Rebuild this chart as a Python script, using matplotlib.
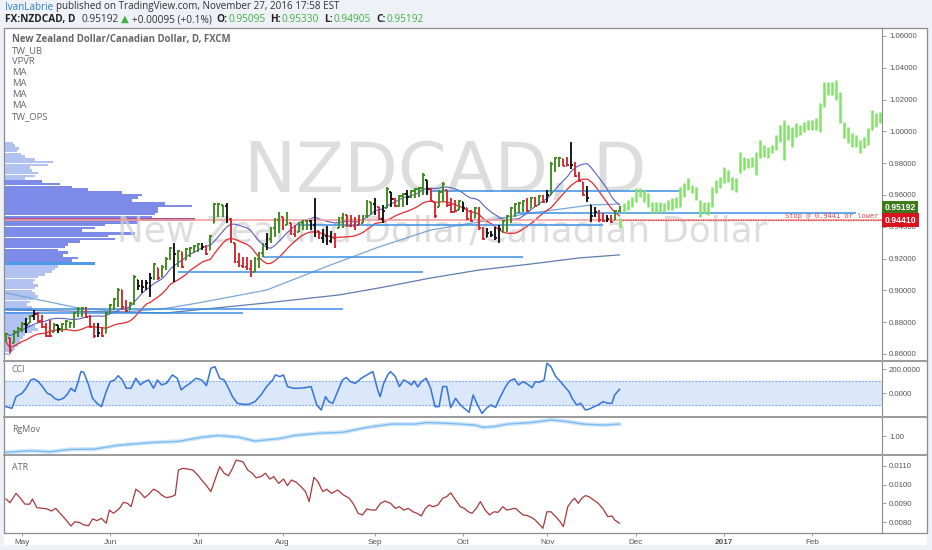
import numpy as np
import pandas as pd
import matplotlib
matplotlib.use("Agg")
import matplotlib.pyplot as plt
from matplotlib.collections import LineCollection, PatchCollection
from matplotlib.patches import Rectangle
import matplotlib.transforms as mtransforms
from matplotlib.ticker import FormatStrFormatter, FixedLocator
from matplotlib.lines import Line2D

plt.rcParams['font.family'] = ['Liberation Sans', 'DejaVu Sans']

# ---------------------------------------------------------------- data
month_labels = ['May', 'Jun', 'Jul', 'Aug', 'Sep', 'Oct', 'Nov', 'Dec', '2017', 'Feb']
month_bar = [0, 22, 44, 65, 88, 110, 131, 153, 175, 197]   # bar index of 1st trading day
first_bar = -4                                              # 26 Apr 2016

bar_high = [
    0.8731, 0.8700, 0.8750, 0.8769, 0.8801, 0.8826, 0.8845, 0.8876, 0.8864, 0.8845,
    0.8794, 0.8813, 0.8794, 0.8782, 0.8794, 0.8813, 0.8801, 0.8864, 0.8895, 0.8895,
    0.8895, 0.8845, 0.8794, 0.8794, 0.8769, 0.8864, 0.8914, 0.8952, 0.9015, 0.9002,
    0.8939, 0.8927, 0.9097, 0.9065, 0.9065, 0.9065, 0.9109, 0.9172, 0.9140, 0.9159,
    0.9209, 0.9273, 0.9298, 0.9254, 0.9241, 0.9266, 0.9273, 0.9285, 0.9298, 0.9298,
    0.9285, 0.9348, 0.9549, 0.9549, 0.9537, 0.9549, 0.9455, 0.9298, 0.9235, 0.9209,
    0.9209, 0.9191, 0.9209, 0.9241, 0.9298, 0.9360, 0.9398, 0.9455, 0.9493, 0.9461,
    0.9493, 0.9424, 0.9411, 0.9430, 0.9443, 0.9443, 0.9443, 0.9581, 0.9373, 0.9386,
    0.9405, 0.9373, 0.9361, 0.9461, 0.9486, 0.9474, 0.9474, 0.9461, 0.9474, 0.9474,
    0.9568, 0.9555, 0.9581, 0.9524, 0.9537, 0.9650, 0.9618, 0.9581, 0.9600, 0.9612,
    0.9631, 0.9631, 0.9644, 0.9650, 0.9738, 0.9694, 0.9644, 0.9555, 0.9631, 0.9681,
    0.9631, 0.9581, 0.9568, 0.9568, 0.9555, 0.9518, 0.9505, 0.9524, 0.9524, 0.9398,
    0.9392, 0.9373, 0.9398, 0.9411, 0.9443, 0.9474, 0.9524, 0.9549, 0.9555, 0.9568,
    0.9581, 0.9587, 0.9587, 0.9600, 0.9600, 0.9631, 0.9807, 0.9838, 0.9838, 0.9826,
    0.9838, 0.9933, 0.9807, 0.9744, 0.9681, 0.9656, 0.9537, 0.9524, 0.9505, 0.9486,
    0.9474, 0.9474, 0.9505, 0.9533]
bar_low = [
    0.8675, 0.8606, 0.8669, 0.8706, 0.8738, 0.8731, 0.8794, 0.8813, 0.8794, 0.8763,
    0.8706, 0.8706, 0.8738, 0.8731, 0.8738, 0.8750, 0.8763, 0.8763, 0.8832, 0.8832,
    0.8826, 0.8763, 0.8700, 0.8706, 0.8706, 0.8731, 0.8857, 0.8876, 0.8895, 0.8876,
    0.8864, 0.8876, 0.8908, 0.9002, 0.8983, 0.9002, 0.8958, 0.9065, 0.9065, 0.9084,
    0.9128, 0.9191, 0.9052, 0.9147, 0.9140, 0.9191, 0.9210, 0.9235, 0.9241, 0.9254,
    0.9222, 0.9254, 0.9424, 0.9461, 0.9461, 0.9424, 0.9298, 0.9172, 0.9147, 0.9140,
    0.9128, 0.9084, 0.9115, 0.9140, 0.9210, 0.9254, 0.9298, 0.9335, 0.9360, 0.9380,
    0.9411, 0.9348, 0.9335, 0.9367, 0.9380, 0.9380, 0.9380, 0.9335, 0.9323, 0.9298,
    0.9285, 0.9298, 0.9266, 0.9392, 0.9392, 0.9398, 0.9398, 0.9380, 0.9411, 0.9424,
    0.9455, 0.9474, 0.9474, 0.9443, 0.9424, 0.9518, 0.9524, 0.9524, 0.9524, 0.9524,
    0.9537, 0.9581, 0.9581, 0.9587, 0.9600, 0.9600, 0.9555, 0.9455, 0.9524, 0.9555,
    0.9524, 0.9486, 0.9493, 0.9505, 0.9493, 0.9443, 0.9430, 0.9455, 0.9380, 0.9317,
    0.9335, 0.9335, 0.9317, 0.9298, 0.9360, 0.9367, 0.9424, 0.9461, 0.9486, 0.9493,
    0.9493, 0.9518, 0.9524, 0.9537, 0.9549, 0.9555, 0.9600, 0.9744, 0.9776, 0.9782,
    0.9782, 0.9763, 0.9713, 0.9681, 0.9593, 0.9555, 0.9430, 0.9461, 0.9430, 0.9430,
    0.9430, 0.9424, 0.9440, 0.94905]
bar_close = [
    0.8725, 0.8625, 0.8740, 0.8760, 0.8790, 0.8780, 0.8840, 0.8850, 0.8805, 0.8770,
    0.8715, 0.8710, 0.8785, 0.8755, 0.8788, 0.8805, 0.8795, 0.8855, 0.8885, 0.8890,
    0.8835, 0.8770, 0.8710, 0.8730, 0.8712, 0.8855, 0.8905, 0.8945, 0.9005, 0.8895,
    0.8870, 0.8920, 0.9085, 0.9030, 0.9020, 0.9045, 0.9080, 0.9165, 0.9075, 0.9150,
    0.9200, 0.9265, 0.9230, 0.9245, 0.9150, 0.9260, 0.9268, 0.9280, 0.9290, 0.9275,
    0.9230, 0.9340, 0.9540, 0.9540, 0.9530, 0.9450, 0.9310, 0.9180, 0.9155, 0.9150,
    0.9135, 0.9090, 0.9200, 0.9235, 0.9290, 0.9320, 0.9390, 0.9445, 0.9480, 0.9390,
    0.9485, 0.9355, 0.9342, 0.9425, 0.9435, 0.9438, 0.9410, 0.9420, 0.9330, 0.9340,
    0.9310, 0.9330, 0.9275, 0.9455, 0.9475, 0.9405, 0.9402, 0.9388, 0.9415, 0.9470,
    0.9560, 0.9545, 0.9530, 0.9450, 0.9500, 0.9640, 0.9575, 0.9530, 0.9595, 0.9605,
    0.9590, 0.9625, 0.9638, 0.9645, 0.9725, 0.9640, 0.9560, 0.9465, 0.9620, 0.9670,
    0.9535, 0.9495, 0.9500, 0.9560, 0.9520, 0.9450, 0.9435, 0.9515, 0.9390, 0.9325,
    0.9360, 0.9350, 0.9330, 0.9385, 0.9435, 0.9465, 0.9515, 0.9540, 0.9548, 0.9560,
    0.9500, 0.9580, 0.9530, 0.9595, 0.9555, 0.9600, 0.9795, 0.9830, 0.9832, 0.9785,
    0.9790, 0.9790, 0.9720, 0.9688, 0.9600, 0.9580, 0.9470, 0.9490, 0.9440, 0.9438,
    0.9450, 0.9430, 0.9500, 0.95192]
# g = up bar, r = down bar, k = neutral bar (indicator colouring)
bar_state = ("grgggkgkrr" "rrgkgggggg" "rrrkrggggr" "rggkkkkgrg" "ggkgrggggk"
             "rggggkrrrr" "rrgggkgggr" "grrgggkkrk" "kkrggrrrrg" "ggkrkgkrgg"
             "kggggkrrgg" "rrrgkrrgrr" "kkkkgggggg" "rgrgrkgggr" "rkrrrkkkrr" "krgg")

# projected path (TW_OPS) - bar ranges
proj_first_bar = 149
proj_high = [
    0.9455, 0.9549, 0.9568, 0.9587, 0.9644, 0.9644, 0.9631, 0.9612, 0.9555, 0.9555,
    0.9555, 0.9549, 0.9568, 0.9581, 0.9587, 0.9650, 0.9675, 0.9707, 0.9663, 0.9650,
    0.9568, 0.9555, 0.9555, 0.9650, 0.9694, 0.9713, 0.9776, 0.9757, 0.9713, 0.9707,
    0.9870, 0.9839, 0.9833, 0.9839, 0.9870, 0.9946, 0.9914, 0.9902, 0.9914, 0.9977,
    1.0040, 1.0072, 1.0040, 1.0028, 1.0053, 1.0040, 1.0059, 1.0072, 1.0072, 1.0084,
    1.0179, 1.0311, 1.0311, 1.0311, 1.0323, 1.0248, 1.0059, 1.0028, 0.9990, 0.9977,
    0.9946, 0.9965, 1.0021, 1.0135, 1.0116, 1.0122]
proj_low = [
    0.9392, 0.9486, 0.9505, 0.9524, 0.9555, 0.9587, 0.9555, 0.9524, 0.9486, 0.9486,
    0.9493, 0.9493, 0.9505, 0.9505, 0.9518, 0.9524, 0.9587, 0.9631, 0.9612, 0.9568,
    0.9461, 0.9486, 0.9474, 0.9524, 0.9612, 0.9644, 0.9675, 0.9682, 0.9631, 0.9619,
    0.9738, 0.9757, 0.9770, 0.9776, 0.9726, 0.9833, 0.9839, 0.9833, 0.9864, 0.9883,
    0.9933, 0.9820, 0.9946, 0.9902, 0.9965, 0.9977, 0.9996, 1.0009, 1.0009, 1.0009,
    0.9996, 1.0153, 1.0229, 1.0229, 1.0197, 1.0053, 0.9958, 0.9927, 0.9902, 0.9902,
    0.9864, 0.9895, 0.9915, 1.0009, 1.0028, 1.0053]

# long moving averages
ma_slow_a_bar = [-4, 14, 25, 35, 44, 61, 77, 89, 102, 114, 127, 142, 149]
ma_slow_a = [0.8984, 0.8889, 0.8864, 0.8883, 0.8921, 0.9002, 0.9160, 0.9273,
             0.9380, 0.9430, 0.9487, 0.9537, 0.9543]
ma_slow_b_bar = [-4, 36, 61, 79, 89, 102, 114, 127, 139, 149]
ma_slow_b = [0.8877, 0.8858, 0.8921, 0.8971, 0.9015, 0.9078, 0.9128, 0.9166,
             0.9204, 0.9223]

# drawn horizontal levels: price, first bar, last bar
level_price = [0.9628, 0.9484, 0.9411, 0.9210, 0.9116, 0.8883, 0.8858]
level_start = [102, 123, 69, 60, 39, -4.2, -4.2]
level_end = [164, 208, 145, 125, 100, 80, 55]
stop_price = 0.9441
last_price = 0.95192

# volume profile (visible range)
vp_top = 0.9927
vp_step = 0.001723
vp_volume = [8, 10, 14, 12, 16, 20, 30, 48, 43, 25,
             27, 33, 30, 20, 37, 55, 67, 83, 117, 137,
             133, 127, 160, 187, 153, 153, 150, 147, 190, 133,
             100, 90, 77, 130, 103, 110, 75, 63, 60, 53,
             63, 58, 73, 67, 90, 53, 50, 47, 40, 33,
             30, 28, 33, 30, 27, 30, 33, 28, 25, 22,
             27, 30, 33, 28, 25, 22, 25, 30, 33, 27,
             20, 18, 15, 16, 13, 10, 8, 6]
vp_value_area = (14, 43)
vp_poc_row = 28

# CCI
cci_bar = [-4.0, -2.5, -1.5, 0.0, 1.0, 2.2, 2.9, 3.9, 5.1, 6.3, 7.3, 8.1, 9.1, 10.3, 11.3,
           12.2, 13.2, 14.0, 14.7, 15.4, 16.6, 17.6, 18.7, 19.8, 21.0, 22.0, 23.1, 24.0,
           25.0, 26.0, 27.2, 28.4, 29.5, 30.6, 31.6, 32.8, 33.8, 34.8, 36.0, 37.5, 38.7,
           39.7, 40.7, 41.9, 43.4, 44.8, 46.0, 47.1, 48.1, 49.3, 50.4, 51.5, 52.5, 53.7,
           55.1, 56.6, 58.1, 59.6, 61.0, 62.5, 63.2, 64.3, 65.2, 66.2, 67.7, 69.1, 70.6,
           72.1, 73.5, 74.6, 75.7, 76.5, 77.5, 78.7, 79.9, 80.9, 81.9, 83.1, 84.6, 86.0,
           87.5, 88.7, 89.3, 90.2, 91.2, 91.9, 93.1, 94.1, 95.2, 96.0, 97.1, 97.8, 98.7,
           99.6, 100.8, 101.9, 103.0, 104.0, 104.9, 105.9, 106.9, 108.1, 109.3, 110.3,
           111.5, 112.5, 113.6, 114.7, 115.8, 116.9, 118.1, 119.1, 120.6, 121.6, 122.8,
           123.8, 125.0, 126.1, 127.2, 128.0, 129.0, 130.2, 130.9, 131.9, 133.1, 134.3,
           135.3, 136.4, 137.2, 138.3, 139.3, 140.5, 141.5, 142.7, 143.7, 144.9, 146.1,
           147.1, 147.8, 149.0]
cci_value = [-111, -125, -28, 0, 42, 111, 120, 103, 56, 0, -14, -42, -56, -42, -8,
             42, 14, 97, 181, 175, 70, -42, -83, -111, 14, 97, 111, 147,
             111, 42, 42, 125, 70, 97, 111, 42, 111, 70, 83, 153, 125,
             28, 56, 83, 125, 111, 64, 208, 222, 125, 111, 42, -28, -83,
             -92, -92, -69, -14, 56, 111, 153, 139, 153, 56, 42, 42, 47,
             56, -97, -139, -28, -69, -83, 14, 111, 131, 97, 83, 125, 153,
             181, 28, -28, 83, 153, 181, 139, 56, 111, 97, 70, 103, 53,
             97, 125, 42, -111, -111, 56, 56, -120, -42, -97, -125,
             -158, -14, -97, -167, -125, -97, -117, -42, 56, 103, 120,
             70, 97, 75, 47, 97, 92, 111, 250, 222, 139, 97,
             56, 14, -42, -97, -83, -139, -131, -111, -97, -69, -83,
             -83, -14, 33]

# Range / movement indicator
rgmov_bar = [-4, 2, 7, 12, 18, 24, 32, 39, 45, 49, 54, 58, 64, 68, 74, 80, 86, 92, 98,
             101, 107, 113, 115, 118, 121, 127, 132, 136, 140, 145, 149]
rgmov_value = [0.585, 0.625, 0.60, 0.66, 0.667, 0.767, 0.835, 0.867, 0.975, 1.017,
               0.975, 0.875, 0.935, 1.017, 1.075, 1.10, 1.225, 1.31, 1.31, 1.35,
               1.325, 1.285, 1.225, 1.25, 1.31, 1.35, 1.417, 1.375, 1.31, 1.285, 1.31]

# ATR
atr_bar = [-4.0, -3.0, -1.5, -0.5, 0.7, 1.9, 2.6, 3.7, 5.1, 6.3, 7.3, 8.4, 9.5, 11.0, 12.2,
           13.2, 14.4, 15.4, 16.6, 17.6, 18.7, 19.8, 21.0, 21.8, 22.8, 24.3, 25.3, 26.3,
           27.2, 28.4, 29.4, 30.6, 31.6, 32.8, 34.0, 34.8, 36.0, 37.2, 38.2, 39.0, 40.1,
           41.2, 42.6, 43.8, 44.8, 46.0, 47.1, 48.1, 49.3, 50.4, 51.5, 52.5, 53.4, 54.4,
           55.1, 56.3, 57.4, 58.4, 59.6, 60.7, 61.8, 62.8, 64.0, 65.2, 66.2, 67.2, 68.4,
           69.6, 70.7, 71.6, 72.8, 73.8, 75.0, 76.0, 77.2, 78.7, 80.2, 81.6, 82.8, 83.8,
           84.9, 86.0, 87.2, 88.2, 89.4, 90.5, 91.9, 93.1, 94.1, 95.2, 96.3, 97.5, 98.5,
           99.6, 100.5, 101.5, 102.5, 103.7, 104.9, 105.9, 106.9, 108.1, 109.3, 110.3,
           111.3, 112.2, 113.3, 114.3, 115.5, 116.6, 117.7, 118.7, 119.9, 120.9, 122.1,
           123.1, 124.0, 125.0, 126.1, 127.2, 128.0, 129.0, 129.9, 130.9, 131.9, 133.1,
           134.2, 135.0, 136.1, 137.0, 137.8, 138.7, 139.6, 140.5, 141.4, 142.5, 143.7,
           144.9, 146.1, 147.1, 147.8, 149.0]
atr_value = [0.00924, 0.00904, 0.00954, 0.00931, 0.00897, 0.00896, 0.00924, 0.00878,
             0.00874, 0.00871, 0.00860, 0.00874, 0.00848, 0.00812, 0.00780, 0.00803,
             0.00798, 0.00786, 0.00782, 0.00818, 0.00809, 0.00821, 0.00795, 0.00865,
             0.00848, 0.00874, 0.00906, 0.00901, 0.00883, 0.00976, 0.00960, 0.00931,
             0.00949, 0.00976, 0.00963, 0.00945, 0.00931, 0.00936, 0.00945, 0.01078,
             0.01087, 0.01084, 0.01078, 0.01052, 0.01025, 0.00995, 0.00963, 0.01025,
             0.01096, 0.01061, 0.01048, 0.01087, 0.01131, 0.01126, 0.01122, 0.01078,
             0.01061, 0.01037, 0.01043, 0.01061, 0.01030, 0.01043, 0.01007, 0.01030,
             0.00995, 0.01025, 0.01013, 0.00989, 0.00963, 0.00910, 0.01039, 0.01016,
             0.00963, 0.00976, 0.00954, 0.00972, 0.00945, 0.00928, 0.00892, 0.00848,
             0.00839, 0.00871, 0.00865, 0.00865, 0.00901, 0.00913, 0.00901, 0.00874,
             0.00883, 0.00865, 0.00874, 0.00856, 0.00848, 0.00834, 0.00871, 0.00892,
             0.00883, 0.00892, 0.00928, 0.00936, 0.00957, 0.00919, 0.00883, 0.00874,
             0.00856, 0.00848, 0.00874, 0.00910, 0.00865, 0.00839, 0.00856, 0.00853,
             0.00883, 0.00865, 0.00871, 0.00874, 0.00856, 0.00839, 0.00835, 0.00824,
             0.00812, 0.00789, 0.00768, 0.00856, 0.00856, 0.00830, 0.00803, 0.00777,
             0.00883, 0.00910, 0.00928, 0.00901, 0.00928, 0.00942, 0.00936, 0.00919,
             0.00901, 0.00871, 0.00830, 0.00834, 0.00812, 0.00795]

# ---------------------------------------------------------------- layout
W, H = 932, 550
fig = plt.figure(figsize=(W / 100, H / 100), dpi=100)
fig.patch.set_facecolor('#eef1f5')


def fx(px):
    return px / W


def fy(py):
    return 1 - py / H


fig.add_artist(Rectangle((fx(4), fy(545)), 923 / W, 517 / H, transform=fig.transFigure,
                         fc='white', ec='none', zorder=-5))

L, R = 5, 882
ax = fig.add_axes([fx(L), fy(360), (R - L) / W, 332 / H])
ax_cci = fig.add_axes([fx(L), fy(416), (R - L) / W, 55 / H], sharex=ax)
ax_rg = fig.add_axes([fx(L), fy(454), (R - L) / W, 37 / H], sharex=ax)
ax_atr = fig.add_axes([fx(L), fy(533), (R - L) / W, 77 / H], sharex=ax)
axes = [ax, ax_cci, ax_rg, ax_atr]

grey_txt = '#555555'
for a in axes:
    a.set_facecolor('none')
    for s in a.spines.values():
        s.set_visible(False)
    a.spines['right'].set_visible(True)
    a.spines['right'].set_color('#8c8c8c')
    a.spines['right'].set_linewidth(0.8)
    a.yaxis.tick_right()
    a.tick_params(axis='y', direction='out', length=3, width=0.6, colors='#8c8c8c',
                  labelsize=5.6, labelcolor=grey_txt, pad=2)
    a.tick_params(axis='x', length=0, labelbottom=False)
ax.set_xlim(-4.24, 214.46)

# ---------------------------------------------------------------- price pane
ax.set_ylim(0.8562, 1.0650)
ax.yaxis.set_major_locator(FixedLocator(np.arange(0.86, 1.0601, 0.02)))
ax.yaxis.set_major_formatter(FormatStrFormatter('%.5f'))

# watermark
wm1 = ax.text(0.5017, 0.565, 'NZDCAD, D', transform=ax.transAxes, ha='center', va='center',
              fontsize=40, color='#d2d2d2', alpha=0.75, family='DejaVu Sans', zorder=2)
wm2 = ax.text(0.498, 0.386, 'New Zealand Dollar/Canadian Dollar', transform=ax.transAxes,
              ha='center', va='center', fontsize=20, color='#d2d2d2', alpha=0.75,
              family='DejaVu Sans', zorder=2)
rend = fig.canvas.get_renderer()
for t, target in ((wm1, 402), (wm2, 650)):
    w = t.get_window_extent(renderer=rend).width
    t.set_fontsize(t.get_fontsize() * target / w)

# volume profile
trans_vp = mtransforms.blended_transform_factory(ax.transAxes, ax.transData)
vp_levels = vp_top - vp_step * np.arange(len(vp_volume))
vmax = max(vp_volume)
rects, rcols = [], []
for k, (lv, vol) in enumerate(zip(vp_levels, vp_volume)):
    wfrac = vol / vmax * (190 / (R - L))
    rects.append(Rectangle((0, lv - vp_step * 0.47), wfrac, vp_step * 0.94))
    if k == vp_poc_row:
        rcols.append('#9a3d86')
    elif k == 44:
        rcols.append('#3a8fe6')
    elif vp_value_area[0] <= k <= vp_value_area[1]:
        rcols.append('#6e7de6')
    else:
        rcols.append('#a9bcf0')
ax.add_collection(PatchCollection(rects, facecolors=rcols, edgecolors='none',
                                  transform=trans_vp, zorder=1, alpha=0.9))

# horizontal levels
ax.hlines(level_price, level_start, level_end, colors='#3b8fe6', linewidth=1.1, zorder=4)
ax.axhline(stop_price, color='#f2a0a0', linewidth=1.2, zorder=4)
ax.hlines(stop_price, 149, 214.46, colors='#e23a3a', linewidth=0.9,
          linestyles=(0, (1, 1)), zorder=4)
ax.text(213.5, stop_price + 0.0006, 'Stop @ 0.9441 or lower', ha='right', va='bottom',
        fontsize=5.1, color='#e0474c', family='DejaVu Sans Mono', zorder=6)

# long moving averages
ax.plot(ma_slow_a_bar, ma_slow_a, color='#7ba6d6', linewidth=0.9, zorder=3)
ax.plot(ma_slow_b_bar, ma_slow_b, color='#5f7db0', linewidth=0.9, zorder=3)

# short moving averages of bar highs / lows
bar_x = first_bar + np.arange(len(bar_close))
hi = pd.Series(bar_high)
lo = pd.Series(bar_low)
ax.plot(bar_x, hi.rolling(10, min_periods=1).mean(), color='#5b5fc4', linewidth=0.8, zorder=3)
ax.plot(bar_x, lo.rolling(10, min_periods=1).mean(), color='#e62a2f', linewidth=0.9, zorder=3)

# OHLC bars
closes = np.array(bar_close)
opens = np.clip(np.r_[closes[0], closes[:-1]], bar_low, bar_high)
state_col = {'g': '#3e8a1c', 'r': '#d6262c', 'k': '#111111'}
segs, cols = [], []
for x, o, h, l, c, s in zip(bar_x, opens, bar_high, bar_low, closes, bar_state):
    col = state_col[s]
    segs += [[(x, l), (x, h)], [(x - 0.4, o), (x, o)], [(x, c), (x + 0.4, c)]]
    cols += [col] * 3
ax.add_collection(LineCollection(segs, colors=cols, linewidths=1.35, zorder=5))

# projection bars
proj_x = proj_first_bar + np.arange(len(proj_high))
ax.vlines(proj_x, proj_low, proj_high, colors='#80e466', linewidth=1.8, zorder=5)

# price labels on the axis
for val, txt, bg in ((last_price, '0.95192', '#3c7a1c'), (stop_price, '0.94410', '#d9141e')):
    ax.annotate(txt, xy=(1.0, val), xycoords=('axes fraction', 'data'),
                xytext=(2.0, 0), textcoords='offset points', ha='left', va='center',
                fontsize=6.2, fontweight='bold', color='white', zorder=10,
                bbox=dict(boxstyle='square,pad=0.28', fc=bg, ec='none'),
                annotation_clip=False)

# ---------------------------------------------------------------- CCI pane
ax_cci.set_ylim(-189, 269)
ax_cci.axhspan(-100, 100, color='#dbe8fb', zorder=0)
ax_cci.axhline(100, color='#7aa8ea', linewidth=0.8, linestyle=(0, (1.5, 1.5)))
ax_cci.axhline(-100, color='#7aa8ea', linewidth=0.8, linestyle=(0, (1.5, 1.5)))
ax_cci.plot(cci_bar, cci_value, color='#3b78d6', linewidth=1.15, zorder=3)
ax_cci.yaxis.set_major_locator(FixedLocator([0, 200]))
ax_cci.yaxis.set_major_formatter(FormatStrFormatter('%.4f'))

# ---------------------------------------------------------------- RgMov pane
ax_rg.set_ylim(0.5425, 1.4925)
ax_rg.plot(rgmov_bar, rgmov_value, color='#cfe5fa', linewidth=3.0, zorder=2,
           solid_capstyle='round')
ax_rg.plot(rgmov_bar, rgmov_value, color='#7dbcf0', linewidth=1.0, zorder=3)
ax_rg.yaxis.set_major_locator(FixedLocator([1.0]))
ax_rg.yaxis.set_major_formatter(FormatStrFormatter('%.2f'))

# ---------------------------------------------------------------- ATR pane
ax_atr.set_ylim(0.00743, 0.011527)
ax_atr.plot(atr_bar, atr_value, color='#a8383a', linewidth=0.9, zorder=3)
ax_atr.yaxis.set_major_locator(FixedLocator([0.008, 0.009, 0.010, 0.011]))
ax_atr.yaxis.set_major_formatter(FormatStrFormatter('%.4f'))
ax_atr.set_xticks(month_bar)
ax_atr.set_xticklabels(month_labels)
ax_atr.tick_params(axis='x', labelbottom=True, length=2, width=0.6, colors='#8c8c8c',
                   labelsize=5.9, labelcolor=grey_txt, pad=2.5)
ax_atr.get_xticklabels()[8].set_fontweight('bold')

# ---------------------------------------------------------------- frames / separators
fig.add_artist(Rectangle((fx(4), fy(533)), 923 / W, 505 / H, transform=fig.transFigure,
                         fc='none', ec='#8c8c8c', lw=0.9, zorder=20))
for yy in (360.5, 416.5, 455.0):
    fig.add_artist(Line2D([fx(4), fx(927)], [fy(yy), fy(yy)], transform=fig.transFigure,
                          color='#9a9a9a', lw=1.4, zorder=20))

# pane titles
pane_font = ['Open Sans', 'DejaVu Sans']
fig.text(fx(12), fy(370), 'CCI', fontsize=6.4, color='#666666', va='center', family=pane_font)
fig.text(fx(12), fy(429), 'RgMov', fontsize=6.4, color='#666666', va='center', family=pane_font)
fig.text(fx(12), fy(467), 'ATR', fontsize=6.4, color='#666666', va='center', family=pane_font)

# legend of studies
fig.text(fx(12), fy(39.5), 'New Zealand Dollar/Canadian Dollar, D, FXCM', fontsize=6.9,
         fontweight='bold', color='#666666', va='center', family=pane_font)
for k, name in enumerate(['TW_UB', 'VPVR', 'MA', 'MA', 'MA', 'MA', 'TW_OPS']):
    fig.text(fx(12), fy(50.8 + k * 10.95), name, fontsize=6.8, color='#666666',
             va='center', family=pane_font)

# ---------------------------------------------------------------- header
hdr_font = ['Open Sans', 'DejaVu Sans']


def text_run(x_px, y_px, runs, size):
    x = x_px
    for s, color, weight, gap in runs:
        t = fig.text(fx(x), fy(y_px), s, color=color, fontweight=weight, fontsize=size,
                     family=hdr_font, va='center', ha='left')
        x += t.get_window_extent(renderer=rend).width + gap


green = '#43b049'
text_run(5, 7, [('IvanLabrie', '#2f7fd1', 'normal', 2.8),
                ('published on TradingView.com, November 27, 2016 17:58 EST', '#333333',
                 'normal', 0)], 7.1)
text_run(5, 19.5, [('FX:NZDCAD, D', '#222222', 'bold', 6),
                   ('0.95192', '#333333', 'normal', 2.5),
                   ('\u25b2', green, 'normal', 2.5),
                   ('+0.00095 (+0.1%)', '#333333', 'normal', 5),
                   ('O:', '#222222', 'bold', 0.8), ('0.95095', green, 'normal', 5),
                   ('H:', '#222222', 'bold', 0.8), ('0.95330', green, 'normal', 5),
                   ('L:', '#222222', 'bold', 0.8), ('0.94905', green, 'normal', 5),
                   ('C:', '#222222', 'bold', 0.8), ('0.95192', green, 'normal', 0)], 7.3)

fig.savefig('out.png', dpi=100, facecolor=fig.get_facecolor())
